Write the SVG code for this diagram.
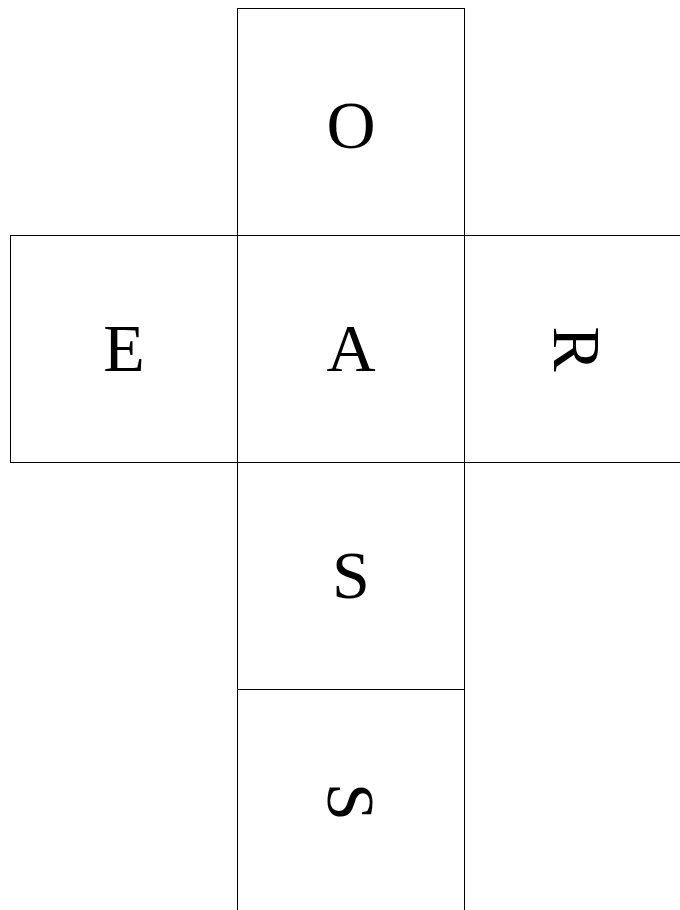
<svg xmlns="http://www.w3.org/2000/svg" width="680" height="910" viewBox="0 0 680 910">
<style>
.face{fill:#fff;stroke:#000;stroke-width:1}
.lbl{font-family:"Liberation Serif","DejaVu Serif",serif;font-size:68px;text-anchor:middle;fill:#000}
</style>
<rect width="680" height="910" fill="#fff"/>
<g id="face-O"><rect class="face" x="237.5" y="8.5" width="227" height="227"/><text class="lbl" x="351" y="148">O</text></g>
<g id="face-E"><rect class="face" x="10.5" y="235.5" width="227" height="227"/><text class="lbl" x="124" y="371">E</text></g>
<g id="face-A"><rect class="face" x="237.5" y="235.5" width="227" height="227"/><text class="lbl" x="351" y="371">A</text></g>
<g id="face-R"><rect class="face" x="464.5" y="235.5" width="227" height="227"/><g transform="translate(576,349) rotate(90)"><text class="lbl" x="0" y="22">R</text></g></g>
<g id="face-S1"><rect class="face" x="237.5" y="462.5" width="227" height="227"/><text class="lbl" x="351" y="598">S</text></g>
<g id="face-S2"><rect class="face" x="237.5" y="689.5" width="227" height="227"/><g transform="translate(350,802) rotate(90)"><text class="lbl" x="0" y="22">S</text></g></g>
<g id="connectors"/>
</svg>
